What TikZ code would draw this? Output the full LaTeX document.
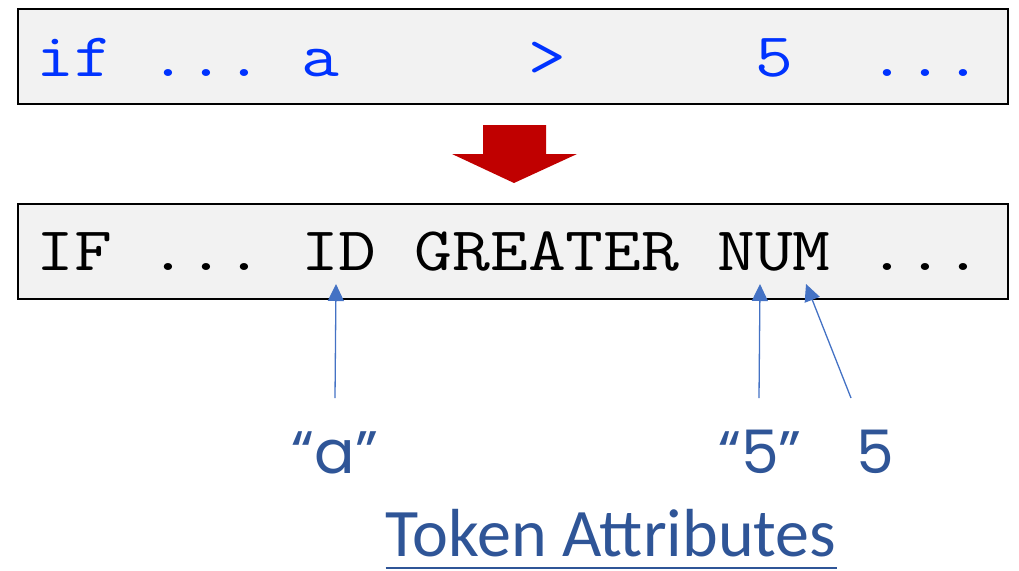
\documentclass[tikz,border=0pt]{standalone}
\usepackage{fontspec}
\setmainfont{Liberation Serif}
\newfontfamily\codefont[FakeStretch=1.185]{Latin Modern Mono}
\newfontfamily\handfont{Poppins}
\newfontfamily\titlefont{Carlito}
\usetikzlibrary{arrows.meta}

\definecolor{srcblue}{RGB}{0,51,255}
\definecolor{attrblue}{RGB}{47,85,151}
\definecolor{linkblue}{RGB}{68,114,196}
\definecolor{boxgray}{RGB}{242,242,242}
\definecolor{arrowred}{RGB}{192,0,0}

\tikzset{
  streambox/.style={draw=black, line width=2pt, fill=boxgray,
    minimum width=990pt, minimum height=95pt, inner sep=0pt},
  codetext/.style={anchor=base west, inner sep=0pt,
    font=\codefont\fontsize{62}{62}\selectfont\frenchspacing},
  attrlabel/.style={anchor=base, inner sep=0pt, text=attrblue,
    font=\handfont\fontsize{60}{60}\selectfont},
  link/.style={draw=linkblue, line width=1.3pt,
    -{Triangle[length=17pt,width=16pt]}},
}

\begin{document}
\begin{tikzpicture}[x=1pt,y=-1pt]
\useasboundingbox (0,0) rectangle (1019,570);

% source line and token line
\node[streambox] (src) at (513,56.5) {};
\node[codetext, text=srcblue] (srctext) at (36,76)
  {if~...~a~~~~~>~~~~~5~~...};

\node[streambox] (tok) at (513,251) {};
\node[codetext, text=black] (toktext) at (36,270)
  {IF~...~ID~GREATER~NUM~...};

% scanning arrow between the two lines
\fill[arrowred] (483,125) -- (546,125) -- (546,154) -- (577,154)
  -- (514,183) -- (452,154) -- (483,154) -- cycle;

% attribute values
\node[attrlabel] (qa) at (335,473) {“a”};
\node[attrlabel] (qfive) at (760,473) {“5”};
\node[attrlabel] (five) at (875,473) {5};

\node[anchor=base, inner sep=0pt, text depth=0pt, text=attrblue,
  font=\titlefont\fontsize{68}{68}\selectfont] (title) at (611,556)
  {Token Attributes};
\draw[attrblue, line width=1.5pt]
  (title.base west) ++(0,12) coordinate (ulstart)
  (ulstart) -- (ulstart -| title.base east);

% arrows from the values to their tokens
\coordinate (idtip) at (336,284);
\coordinate (numtipa) at (760,284);
\coordinate (numtipb) at (806,284);
\coordinate (qafoot) at (335,398);
\coordinate (qfivefoot) at (759,398);
\coordinate (fivefoot) at (851,398);

\draw[link] (qafoot) -- (idtip);
\draw[link] (qfivefoot) -- (numtipa);
\draw[link] (fivefoot) -- (numtipb);
\end{tikzpicture}
\end{document}
